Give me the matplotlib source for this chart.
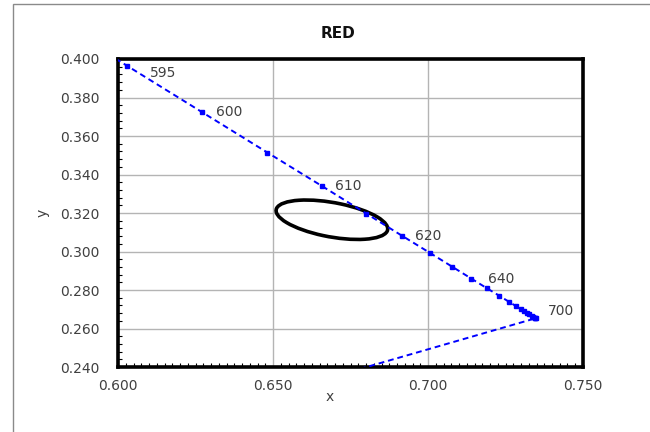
#!/usr/bin/env python3
"""CIE 1931 chromaticity detail, red corner, with the RED tolerance ellipse."""

import matplotlib

matplotlib.use("Agg")
import matplotlib.pyplot as plt
from matplotlib.patches import Ellipse, Rectangle
from matplotlib.ticker import MultipleLocator, FormatStrFormatter

# spectral locus (nm, x, y), then closing purple line to 380 nm
WAVELENGTHS = [590, 595, 600, 605, 610, 615, 620, 625, 630, 635, 640, 645, 650,
               655, 660, 665, 670, 675, 680, 685, 690, 695, 700, 380]
LOCUS_X = [0.5752, 0.6029, 0.6270, 0.6482, 0.6658, 0.6801, 0.6915, 0.7006,
           0.7079, 0.7140, 0.7190, 0.7230, 0.7260, 0.7283, 0.7300, 0.7311,
           0.7320, 0.7327, 0.7334, 0.7340, 0.7344, 0.7346, 0.7347, 0.1741]
LOCUS_Y = [0.4242, 0.3965, 0.3725, 0.3514, 0.3340, 0.3197, 0.3083, 0.2993,
           0.2920, 0.2859, 0.2809, 0.2770, 0.2740, 0.2717, 0.2700, 0.2689,
           0.2680, 0.2673, 0.2666, 0.2660, 0.2656, 0.2654, 0.2653, 0.0050]

LABELLED = [595, 600, 610, 620, 640, 700]

# tolerance ellipse (data units)
ELLIPSE_CENTER = (0.669, 0.3165)
ELLIPSE_SEMI_MAJOR = 0.0188
ELLIPSE_SEMI_MINOR = 0.0087
ELLIPSE_ANGLE = -18.9

# label offsets in points (dx, dy), text left-aligned
LABEL_OFFSET = {595: (16.5, -5), 600: (10, 0), 610: (9.5, 0), 620: (9.5, 0),
                640: (0.5, 7), 700: (8.5, 5)}

TEXT = "#404040"
W, H = 650, 432

plt.rcParams["font.family"] = "DejaVu Sans"
fig = plt.figure(figsize=(W / 100, H / 100), dpi=100)
ax = fig.add_axes([118 / W, 1 - 367 / H, 465 / W, 308 / H])

# chart-area border (only left and top visible in the crop)
fig.add_artist(Rectangle((13 / W, -0.5), 2.0, 0.5 + 1 - 4 / H,
                         transform=fig.transFigure, fill=False,
                         edgecolor="#8a8a8a", linewidth=1.0))

ax.plot(LOCUS_X, LOCUS_Y, color="#0000ff", linestyle=(0, (3, 2)),
        linewidth=1.4, zorder=5)
ax.plot(LOCUS_X[:-1], LOCUS_Y[:-1], linestyle="none", marker="s",
        markersize=3.4, color="#0000ff", zorder=6)

for nm in LABELLED:
    i = WAVELENGTHS.index(nm)
    ax.annotate(str(nm), (LOCUS_X[i], LOCUS_Y[i]), xytext=LABEL_OFFSET[nm],
                textcoords="offset points", ha="left", va="center",
                fontsize=10, color=TEXT, zorder=7)

ax.add_patch(Ellipse(ELLIPSE_CENTER, 2 * ELLIPSE_SEMI_MAJOR,
                     2 * ELLIPSE_SEMI_MINOR, angle=ELLIPSE_ANGLE,
                     fill=False, edgecolor="black", linewidth=2.6, zorder=4))

ax.set_xlim(0.600, 0.750)
ax.set_ylim(0.240, 0.400)
ax.xaxis.set_major_locator(MultipleLocator(0.05))
ax.yaxis.set_major_locator(MultipleLocator(0.02))
ax.xaxis.set_minor_locator(MultipleLocator(0.0025))
ax.yaxis.set_minor_locator(MultipleLocator(0.004))
ax.xaxis.set_major_formatter(FormatStrFormatter("%.3f"))
ax.yaxis.set_major_formatter(FormatStrFormatter("%.3f"))
ax.tick_params(which="major", length=0, labelsize=10, labelcolor=TEXT)
ax.tick_params(axis="x", which="major", pad=9)
ax.tick_params(axis="y", which="major", pad=13)
ax.tick_params(which="minor", direction="in", length=3, width=0.8,
               color="black")
ax.grid(True, which="major", color="#b4b4b4", linewidth=1.0, zorder=0)
ax.set_axisbelow(True)
for side in ax.spines.values():
    side.set_linewidth(2.6)
    side.set_color("black")

ax.set_xlabel("x", fontsize=10, color=TEXT, labelpad=2)
ax.xaxis.set_label_coords((330 - 118) / 465, -0.075)
ax.set_ylabel("y", fontsize=10, color=TEXT)
ax.yaxis.set_label_coords((50 - 118) / 465, 0.5)
fig.text(338 / W, 1 - 33 / H, "RED", ha="center", va="center",
         fontsize=11, fontweight="bold", color="#111111")

fig.savefig("out.png", dpi=100)
